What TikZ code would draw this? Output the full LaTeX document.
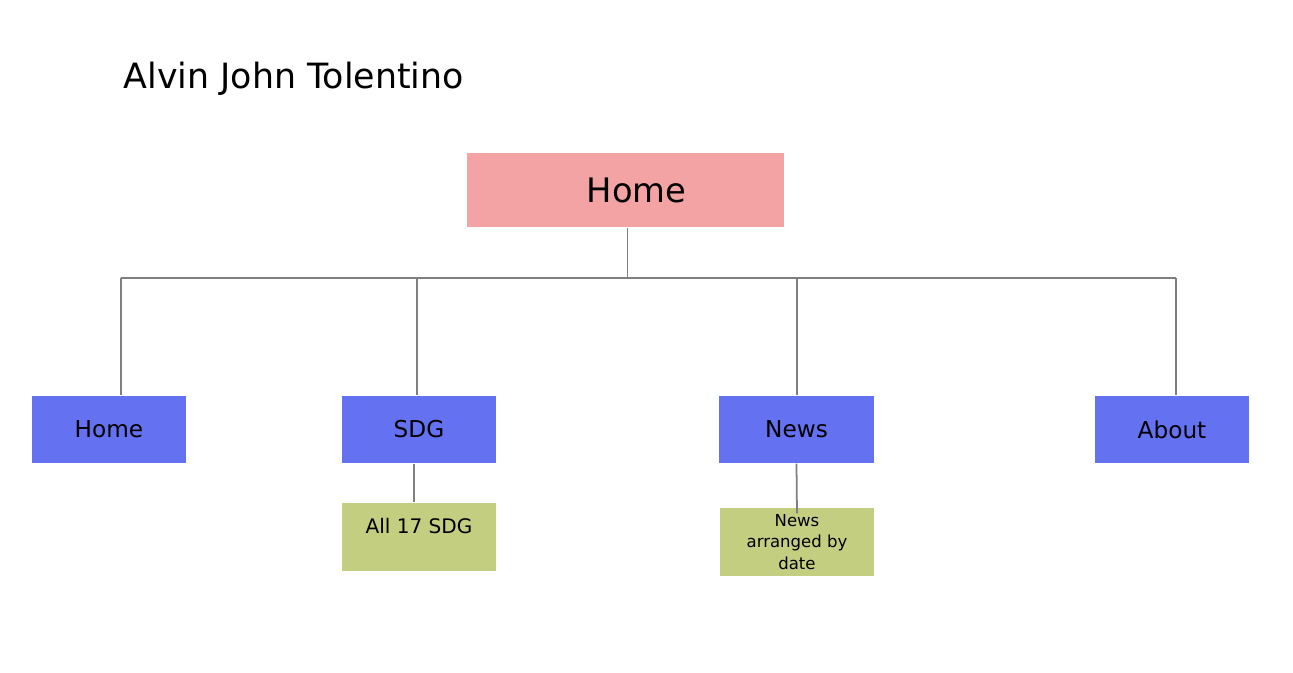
\documentclass[tikz,border=0pt]{standalone}
\usepackage{fontspec}
\setmainfont{DejaVu Sans}
\usetikzlibrary{positioning}
\definecolor{rootpink}{HTML}{F4A3A4}
\definecolor{pageblue}{HTML}{6471F1}
\definecolor{subgreen}{HTML}{C4CE81}
\definecolor{wiregray}{HTML}{7F7F7F}
\tikzset{rootbox/.style={fill=rootpink, minimum width=3.17cm, minimum height=0.74cm, inner sep=0, font=\fontsize{9.6}{11}\selectfont}}
\tikzset{pagebox/.style={fill=pageblue, minimum width=1.54cm, minimum height=0.67cm, inner sep=0, font=\fontsize{6.6}{8}\selectfont}}
\tikzset{subbox/.style={fill=subgreen, minimum width=1.54cm, minimum height=0.68cm, inner sep=0, align=center, font=\fontsize{4.7}{6.2}\selectfont}}
\tikzset{wire/.style={draw=wiregray, line width=0.5pt}}

\begin{document}
\begin{tikzpicture}[x=0.01cm, y=-0.01cm]
				\useasboundingbox (0,0) rectangle (1293,672);

				\node[anchor=base west, inner sep=0, font=\fontsize{9.9}{11}\selectfont] (author) at (123,88) {Alvin John Tolentino};

				\node[rootbox] (root) at (625.5,190) {\hspace*{0.22cm}Home};

				\node[pagebox] (home) at (109,429.5) {Home};
				\node[pagebox] (sdg) at (419,429.5) {SDG};
				\node[pagebox] (news) at (796.5,429.5) {News};
				\node[pagebox] (about) at (1172,429.5) {About};

				\node[subbox, label={[yshift=0.105cm, font=\fontsize{5.7}{7}\selectfont]center:All 17 SDG}] (allsdg) at (419,537) {};
				\node[subbox] (bydate) at (797,542) {News\\arranged by\\date};

				% bus line
				\coordinate (busL) at (121,278);
				\coordinate (busR) at (1176,278);
				\coordinate (busM) at (627.5,278);
				\coordinate (busS) at (417,278);
				\coordinate (busN) at (797,278);
				\draw[wire] (busL) -- (busR);
				\draw[wire] (busM |- root.south) -- (busM);

				\draw[wire] (busL) -- (busL |- home.north);
				\draw[wire] (busS) -- (busS |- sdg.north);
				\draw[wire] (busN) -- (busN |- news.north);
				\draw[wire] (busR) -- (busR |- about.north);

				\draw[wire] ([xshift=-0.05cm]sdg.south) -- ([xshift=-0.05cm]allsdg.north);
				\draw[wire] (news.south) -- ([yshift=-0.06cm]bydate.north);
			\end{tikzpicture}
\end{document}
